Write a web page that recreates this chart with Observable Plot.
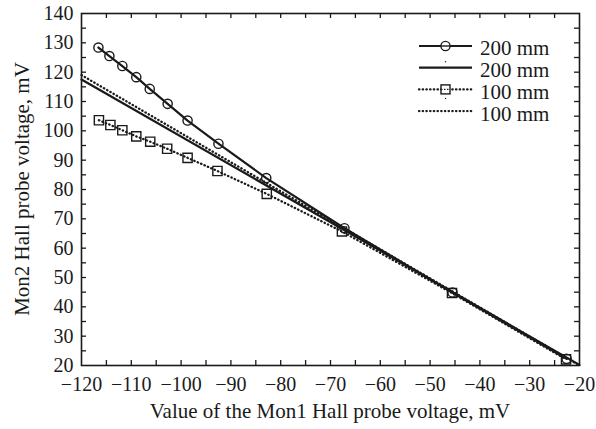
<!DOCTYPE html>
<html>
<head>
<meta charset="utf-8">
<script src="https://cdn.jsdelivr.net/npm/d3@7"></script>
<script src="https://cdn.jsdelivr.net/npm/@observablehq/plot@0.6"></script>
<style>
  body { margin: 0; background: #fff; }
  svg { display: block; }
</style>
</head>
<body>
<div id="chart"></div>
<script>
// Measured probe pairs, 200 mm (circles) and 100 mm (squares)
const mon1At200 = [-116.6, -114.4, -111.8, -109.0, -106.3, -102.7, -98.7, -92.5, -82.9, -67.2, -45.5, -22.6];
const mon2At200 = [128.4, 125.5, 122.1, 118.3, 114.3, 109.2, 103.5, 95.6, 83.9, 66.8, 44.9, 22.3];
const mon1At100 = [-116.5, -114.2, -111.8, -109.0, -106.2, -102.8, -98.7, -92.7, -82.8, -67.7, -45.6, -22.7];
const mon2At100 = [103.6, 102.0, 100.2, 98.1, 96.3, 93.9, 90.8, 86.3, 78.5, 65.7, 44.7, 22.1];

// Straight reference lines across the full Mon1 range
const lineMon1 = [-120, -20];
const line200 = [117.5, 20.2];
const line100 = [119.0, 20.0];

// Axis ticks
const xLabels = [-120, -110, -100, -90, -80, -70, -60, -50, -40, -30, -20];
const yLabels = [20, 30, 40, 50, 60, 70, 80, 90, 100, 110, 120, 130, 140];
const xMinor = d3.range(-115, -20, 5);
const yMinor = d3.range(25, 140, 5);

const legendLabels = ["200 mm", "200 mm", "100 mm", "100 mm"];

const W = 596, H = 429;
const M = {top: 13, right: 17, bottom: 64, left: 81};
const innerW = W - M.left - M.right;
const innerH = H - M.top - M.bottom;
const ink = "#1a1a1a";
const dotted = "0.4,3.3";
const fmt = d => d < 0 ? "\u2212" + Math.abs(d) : String(d);

const pts200 = mon1At200.map((x, i) => ({x, y: mon2At200[i]}));
const pts100 = mon1At100.map((x, i) => ({x, y: mon2At100[i]}));
const ref200 = lineMon1.map((x, i) => ({x, y: line200[i]}));
const ref100 = lineMon1.map((x, i) => ({x, y: line100[i]}));

const tick = 5;
const plot = Plot.plot({
  width: W,
  height: H,
  marginTop: M.top,
  marginRight: M.right,
  marginBottom: M.bottom,
  marginLeft: M.left,
  style: {fontFamily: "'Liberation Serif', 'Times New Roman', serif", fontSize: "20px", color: ink, background: "#fff"},
  x: {domain: [-120, -20]},
  y: {domain: [20, 140]},
  marks: [
    // inward ticks on all four sides
    Plot.ruleX(xMinor, {x: d => d, insetTop: innerH - tick, stroke: ink, strokeWidth: 1.3}),
    Plot.ruleX(xMinor, {x: d => d, insetBottom: innerH - tick, stroke: ink, strokeWidth: 1.3}),
    Plot.ruleY(yMinor, {y: d => d, insetRight: innerW - tick, stroke: ink, strokeWidth: 1.3}),
    Plot.ruleY(yMinor, {y: d => d, insetLeft: innerW - tick, stroke: ink, strokeWidth: 1.3}),
    Plot.axisX(xLabels, {tickSize: 0, tickPadding: 11, tickFormat: fmt, label: null}),
    Plot.axisY(yLabels, {tickSize: 0, tickPadding: 8, tickFormat: fmt, label: null}),

    // reference lines
    Plot.line(ref100, {x: "x", y: "y", stroke: ink, strokeWidth: 2.3, strokeDasharray: dotted, strokeLinecap: "round"}),
    Plot.line(ref200, {x: "x", y: "y", stroke: ink, strokeWidth: 2.2}),

    // measured series
    Plot.line(pts100, {x: "x", y: "y", stroke: ink, strokeWidth: 2.3, strokeDasharray: dotted, strokeLinecap: "round"}),
    Plot.dot(pts100, {x: "x", y: "y", symbol: "square", r: 5.2, stroke: ink, strokeWidth: 1.4, fill: "none"}),
    Plot.line(pts200, {x: "x", y: "y", stroke: ink, strokeWidth: 2.2}),
    Plot.dot(pts200, {x: "x", y: "y", symbol: "circle", r: 4.6, stroke: ink, strokeWidth: 1.4, fill: "none"}),

    Plot.frame({stroke: ink, strokeWidth: 1.6})
  ]
});

const svg = d3.select(plot);

// axis titles
svg.append("text")
  .attr("x", M.left + innerW / 2).attr("y", 418)
  .attr("text-anchor", "middle").attr("fill", ink)
  .style("font-size", "21px")
  .text("Value of the Mon1 Hall probe voltage, mV");
svg.append("text")
  .attr("transform", `translate(29,${M.top + innerH / 2}) rotate(-90)`)
  .attr("text-anchor", "middle").attr("fill", ink)
  .style("font-size", "21px")
  .text("Mon2 Hall probe voltage, mV");

// legend
const lg = svg.append("g").attr("transform", "translate(419,46)");
const rowH = 21.7;
legendLabels.forEach((label, i) => {
  const g = lg.append("g").attr("transform", `translate(0,${i * rowH})`);
  g.append("line").attr("x1", 0).attr("x2", 53).attr("y1", 0).attr("y2", 0)
    .attr("stroke", ink).attr("stroke-width", i >= 2 ? 2.3 : 2.2)
    .attr("stroke-linecap", i >= 2 ? "round" : null)
    .attr("stroke-dasharray", i >= 2 ? dotted : null);
  if (i === 0) {
    g.append("circle").attr("cx", 26.5).attr("cy", 0).attr("r", 4.6)
      .attr("fill", "#fff").attr("stroke", ink).attr("stroke-width", 1.4);
    g.append("line").attr("x1", 22).attr("x2", 31).attr("y1", 0).attr("y2", 0)
      .attr("stroke", ink).attr("stroke-width", 1.4);
  }
  if (i === 1) {
    g.append("circle").attr("cx", 26.5).attr("cy", -6).attr("r", 0.7).attr("fill", ink);
  }
  if (i === 2) {
    g.append("rect").attr("x", 22).attr("y", -4.5).attr("width", 9).attr("height", 9)
      .attr("fill", "#fff").attr("stroke", ink).attr("stroke-width", 1.4);
    g.append("line").attr("x1", 22).attr("x2", 31).attr("y1", 0).attr("y2", 0)
      .attr("stroke", ink).attr("stroke-width", 1.4).attr("stroke-dasharray", "1.5,1.5");
    g.append("circle").attr("cx", 26.5).attr("cy", 9).attr("r", 0.7).attr("fill", ink);
  }
  g.append("text").attr("x", 61).attr("y", 0).attr("dy", "0.45em")
    .attr("text-anchor", "start")
    .attr("fill", ink).style("font-size", "21px").text(label);
});

document.getElementById("chart").appendChild(plot);
</script>
</body>
</html>
